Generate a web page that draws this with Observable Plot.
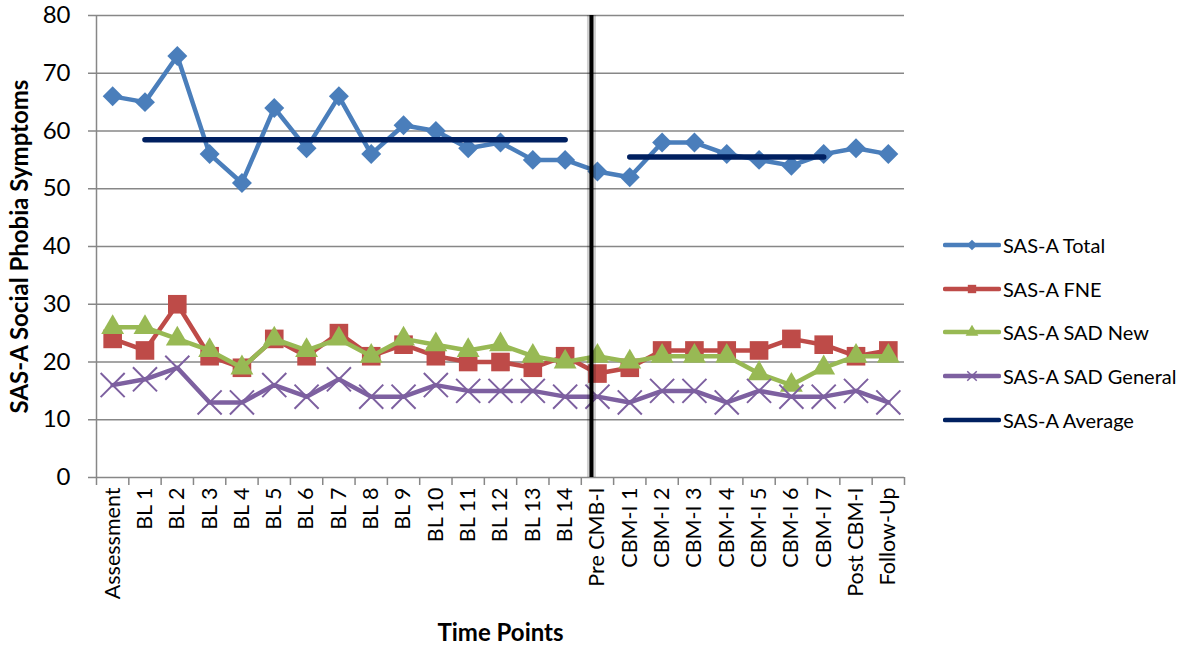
<!DOCTYPE html>
<html>
<head>
<meta charset="utf-8">
<script src="https://cdn.jsdelivr.net/npm/d3@7"></script>
<script src="https://cdn.jsdelivr.net/npm/@observablehq/plot@0.6"></script>
<style>
  body { margin: 0; background: #fff; }
  #chart { position: relative; width: 1191px; height: 648px; font-family: Lato, "Open Sans", sans-serif; }
  #chart svg { font-family: Lato, "Open Sans", sans-serif; }
  g[aria-label="y-axis tick label"] text { font-size: 24px; fill: #000; }
  g[aria-label="x-axis tick label"] text { font-size: 21.5px; fill: #000; }
  g[aria-label="x-axis label"] text, g[aria-label="y-axis label"] text { font-size: 24px; font-weight: bold; fill: #000; }
  .legend { position: absolute; left: 943px; top: 223px; }
  .legend .item { display: flex; align-items: center; height: 43.75px; font-size: 20px; color: #000; }
  .legend svg { margin-right: 2px; }
</style>
</head>
<body>
<div id="chart"></div>
<script>
// Time points of the single-case design
const categories = [
  "Assessment",
  "BL 1", "BL 2", "BL 3", "BL 4", "BL 5", "BL 6", "BL 7",
  "BL 8", "BL 9", "BL 10", "BL 11", "BL 12", "BL 13", "BL 14",
  "Pre CMB-I",
  "CBM-I 1", "CBM-I 2", "CBM-I 3", "CBM-I 4", "CBM-I 5", "CBM-I 6", "CBM-I 7",
  "Post CBM-I", "Follow-Up"
];

// SAS-A scores per time point
const total      = [66, 65, 73, 56, 51, 64, 57, 66, 56, 61, 60, 57, 58, 55, 55, 53, 52, 58, 58, 56, 55, 54, 56, 57, 56];
const fne        = [24, 22, 30, 21, 19, 24, 21, 25, 21, 23, 21, 20, 20, 19, 21, 18, 19, 22, 22, 22, 22, 24, 23, 21, 22];
const sadNew     = [26, 26, 24, 22, 19, 24, 22, 24, 21, 24, 23, 22, 23, 21, 20, 21, 20, 21, 21, 21, 18, 16, 19, 21, 21];
const sadGeneral = [16, 17, 19, 13, 13, 16, 14, 17, 14, 14, 16, 15, 15, 15, 14, 14, 13, 15, 15, 13, 15, 14, 14, 15, 13];

// Phase averages of the total score
const averageStart  = ["BL 1", "CBM-I 1"];
const averageEnd    = ["BL 14", "CBM-I 7"];
const averageValues = [58.5, 55.5];

// Start of the intervention phase
const phaseChange = "Pre CMB-I";

const yTicks = [0, 10, 20, 30, 40, 50, 60, 70, 80];

const series = [
  {name: "SAS-A Total",       values: total,      color: "#4a7ebb", symbol: "diamond2", r: 9,    filled: true},
  {name: "SAS-A FNE",         values: fne,        color: "#be4b48", symbol: "square",   r: 10.5, filled: true},
  {name: "SAS-A SAD New",     values: sadNew,     color: "#98b954", symbol: "triangle", r: 8.5,  filled: true},
  {name: "SAS-A SAD General", values: sadGeneral, color: "#7d60a0", symbol: "times",    r: 11,   filled: false}
];
const averageColor = "#002060";
const gridColor = "#878787";

const idx = c => categories.indexOf(c);
const averages = averageValues.map((v, k) => ({x1: idx(averageStart[k]), x2: idx(averageEnd[k]), v}));

const seriesMarks = series.flatMap(s => {
  const rows = s.values.map((v, i) => ({i, v}));
  return [
    Plot.line(rows, {x: "i", y: "v", stroke: s.color, strokeWidth: 4.5, strokeLinejoin: "round"}),
    s.filled
      ? Plot.dot(rows, {x: "i", y: "v", symbol: s.symbol, r: s.r, fill: s.color, stroke: "none"})
      : Plot.dot(rows, {x: "i", y: "v", symbol: s.symbol, r: s.r, stroke: s.color, strokeWidth: 2})
  ];
});

const chart = Plot.plot({
  width: 1191,
  height: 648,
  marginLeft: 96,
  marginRight: 287,
  marginTop: 15,
  marginBottom: 171,
  x: {type: "linear", domain: [-0.5, categories.length - 0.5]},
  y: {domain: [0, 80]},
  marks: [
    Plot.gridY(yTicks.filter(v => v > 0), {stroke: gridColor, strokeOpacity: 1, strokeWidth: 1.5}),
    Plot.ruleY([0], {stroke: gridColor, strokeWidth: 1.5}),
    Plot.ruleX([-0.5], {stroke: gridColor, strokeWidth: 1.5}),
    Plot.axisY({
      ticks: yTicks, tickSize: 8, tickPadding: 18, stroke: gridColor, strokeWidth: 1.5,
      label: "SAS-A Social Phobia Symptoms", labelAnchor: "center", labelOffset: 86, labelArrow: "none"
    }),
    Plot.axisX({
      ticks: d3.range(categories.length + 1).map(k => k - 0.5),
      tickSize: 8, tickFormat: () => "", stroke: gridColor, strokeWidth: 1.5, label: null
    }),
    Plot.axisX({
      ticks: d3.range(categories.length), tickSize: 0, tickPadding: 10, tickRotate: -90,
      tickFormat: i => categories[i],
      label: "Time Points", labelAnchor: "center", labelOffset: 163, labelArrow: "none"
    }),
    ...seriesMarks,
    Plot.link(averages, {x1: "x1", x2: "x2", y1: "v", y2: "v", stroke: averageColor, strokeWidth: 5.5, strokeLinecap: "round"}),
    // phase divider with a soft shadow
    Plot.ruleX([phaseChange], {x: d => idx(d), dx: -6, y1: 0, y2: 80, stroke: "#000", strokeOpacity: 0.18, strokeWidth: 9}),
    Plot.ruleX([phaseChange], {x: d => idx(d), dx: -6, y1: 0, y2: 80, stroke: "#000", strokeWidth: 4})
  ]
});

const root = document.getElementById("chart");
root.appendChild(chart);

// Legend on the right
const legend = d3.select(root).append("div").attr("class", "legend");
const legendEntries = [...series, {name: "SAS-A Average", color: averageColor, symbol: null}];
const symbolTypes = {diamond2: d3.symbolDiamond2, square: d3.symbolSquare, triangle: d3.symbolTriangle, times: d3.symbolTimes};
legendEntries.forEach(s => {
  const item = legend.append("div").attr("class", "item");
  const svg = item.append("svg").attr("width", 58).attr("height", 14);
  svg.append("line").attr("x1", 2).attr("x2", 56).attr("y1", 7).attr("y2", 7)
    .attr("stroke", s.color).attr("stroke-width", 4.5).attr("stroke-linecap", "round");
  if (s.symbol) {
    const path = d3.symbol(symbolTypes[s.symbol], s.symbol === "times" ? 60 : 70)();
    const p = svg.append("path").attr("d", path).attr("transform", "translate(29,7)");
    if (s.filled) p.attr("fill", s.color); else p.attr("fill", "none").attr("stroke", s.color).attr("stroke-width", 1.5);
  }
  item.append("span").text(s.name);
});
</script>
</body>
</html>
